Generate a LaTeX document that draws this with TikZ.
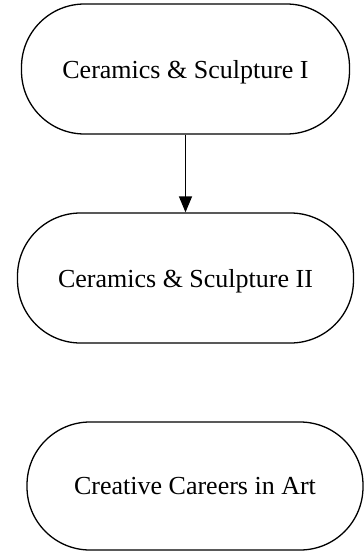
\documentclass[tikz,border=0pt]{standalone}
\usepackage{fontspec}
\setmainfont{Liberation Serif}
\usepackage{tikz}
\usetikzlibrary{arrows.meta}

\begin{document}
\begin{tikzpicture}[x=1pt,y=-1pt,line width=1.3pt,every node/.style={draw,rectangle,rounded corners=63pt,inner sep=0pt,minimum height=130pt,text depth=-3pt,font=\fontsize{26}{30}\selectfont}]
    \useasboundingbox (0,0) rectangle (364,552);
    \node[minimum width=328pt] (c1) at (185.5,69) {Ceramics \& Sculpture I};
    \node[minimum width=336pt] (c2) at (185.5,278) {Ceramics \& Sculpture II};
    \node[minimum width=336pt,minimum height=128pt] (cc) at (195,486) {Creative Careers in Art};
    \draw (c1) edge[-{Triangle[length=16pt,width=13pt]}]  (c2) ;
    \end{tikzpicture}
\end{document}
